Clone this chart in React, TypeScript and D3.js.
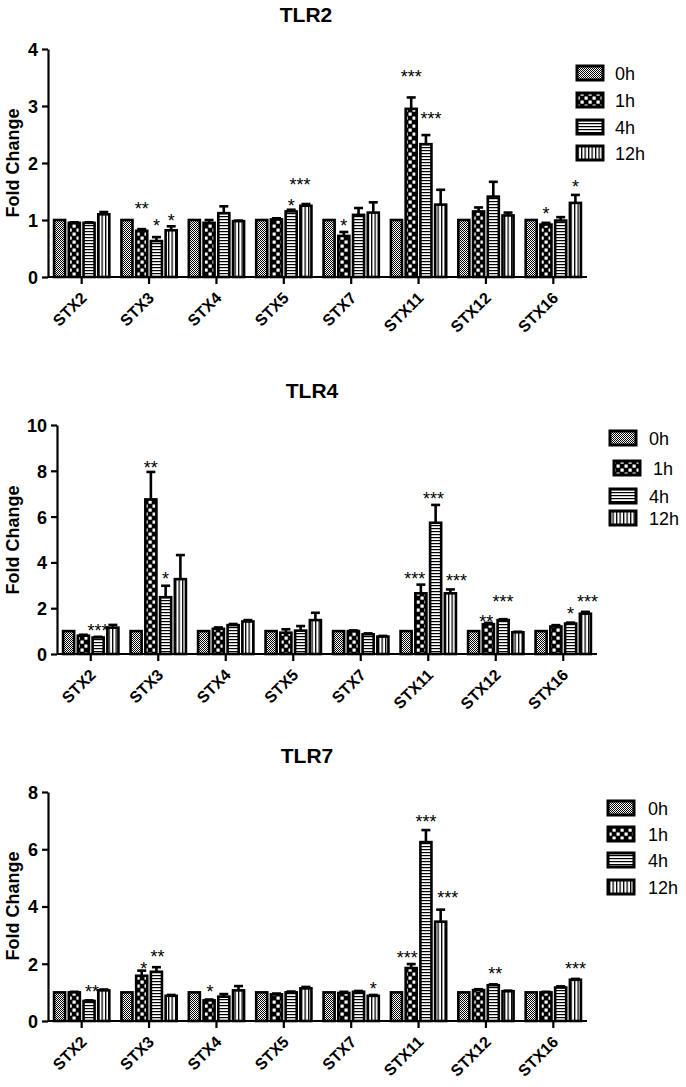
import React, { useEffect, useRef } from 'react';
import * as d3 from 'd3';

const categories = ['STX2', 'STX3', 'STX4', 'STX5', 'STX7', 'STX11', 'STX12', 'STX16'];
const timepoints = ['0h', '1h', '4h', '12h'];

// one row per time point (0h, 1h, 4h, 12h)
const tlr2Mean = [
  [1, 1, 1, 1, 1, 1, 1, 1],
  [0.95, 0.81, 0.95, 1.01, 0.72, 2.95, 1.15, 0.92],
  [0.95, 0.63, 1.12, 1.15, 1.09, 2.33, 1.41, 0.99],
  [1.1, 0.82, 0.98, 1.25, 1.13, 1.27, 1.08, 1.3],
];
const tlr2Err = [
  [0, 0, 0, 0, 0, 0, 0, 0],
  [0.01, 0.03, 0.05, 0.02, 0.07, 0.2, 0.07, 0.03],
  [0.01, 0.07, 0.12, 0.03, 0.12, 0.16, 0.26, 0.06],
  [0.04, 0.07, 0.01, 0.03, 0.18, 0.26, 0.05, 0.14],
];

const tlr4Mean = [
  [1, 1, 1, 1, 1, 1, 1, 1],
  [0.8, 6.75, 1.1, 0.93, 1.0, 2.65, 1.3, 1.2],
  [0.72, 2.48, 1.26, 1.02, 0.86, 5.73, 1.48, 1.33],
  [1.15, 3.27, 1.42, 1.48, 0.76, 2.65, 0.95, 1.76],
];
const tlr4Err = [
  [0, 0, 0, 0, 0, 0, 0, 0],
  [0.04, 1.2, 0.06, 0.15, 0.03, 0.38, 0.06, 0.06],
  [0.03, 0.5, 0.05, 0.2, 0.04, 0.78, 0.04, 0.04],
  [0.12, 1.05, 0.06, 0.32, 0.03, 0.17, 0.02, 0.08],
];

const tlr7Mean = [
  [1, 1, 1, 1, 1, 1, 1, 1],
  [1.0, 1.58, 0.72, 0.93, 0.98, 1.85, 1.08, 1.0],
  [0.7, 1.72, 0.85, 1.0, 1.02, 6.25, 1.25, 1.17],
  [1.07, 0.88, 1.07, 1.14, 0.88, 3.47, 1.04, 1.44],
];
const tlr7Err = [
  [0, 0, 0, 0, 0, 0, 0, 0],
  [0.02, 0.18, 0.03, 0.03, 0.04, 0.14, 0.03, 0.02],
  [0.02, 0.16, 0.09, 0.03, 0.03, 0.42, 0.03, 0.04],
  [0.03, 0.03, 0.15, 0.05, 0.03, 0.42, 0.02, 0.03],
];

// [category, time point, label, height in fold change, nudge]
type Star = [string, string, string, number, number];
const tlr2Stars: Star[] = [
  ['STX3', '1h', '**', 1.26, 0],
  ['STX3', '4h', '*', 0.96, 0],
  ['STX3', '12h', '*', 1.05, 0],
  ['STX5', '4h', '*', 1.32, 0],
  ['STX5', '12h', '***', 1.68, -6],
  ['STX7', '1h', '*', 0.96, 0],
  ['STX11', '1h', '***', 3.58, 0],
  ['STX11', '4h', '***', 2.84, 5],
  ['STX16', '1h', '*', 1.18, 0],
  ['STX16', '12h', '*', 1.65, 0],
];
const tlr4Stars: Star[] = [
  ['STX2', '4h', '***', 1.18, 0],
  ['STX3', '1h', '**', 8.3, 0],
  ['STX3', '4h', '*', 3.45, 0],
  ['STX11', '1h', '***', 3.45, -6],
  ['STX11', '4h', '***', 6.94, -2],
  ['STX11', '12h', '***', 3.36, 6],
  ['STX12', '1h', '**', 1.57, -2],
  ['STX12', '4h', '***', 2.45, 0],
  ['STX16', '4h', '*', 1.92, 0],
  ['STX16', '12h', '***', 2.45, 2],
];
const tlr7Stars: Star[] = [
  ['STX2', '4h', '**', 1.15, 3],
  ['STX3', '1h', '*', 1.96, 2],
  ['STX3', '4h', '**', 2.38, 1],
  ['STX4', '1h', '*', 1.15, 1],
  ['STX7', '12h', '*', 1.26, 0],
  ['STX11', '1h', '***', 2.34, -4],
  ['STX11', '4h', '***', 7.1, 0],
  ['STX11', '12h', '***', 4.44, 7],
  ['STX12', '4h', '**', 1.78, 2],
  ['STX16', '12h', '***', 1.96, 0],
];

const tlr2Ticks = [0, 1, 2, 3, 4];
const tlr4Ticks = [0, 2, 4, 6, 8, 10];
const tlr7Ticks = [0, 2, 4, 6, 8];

const FONT = 'Liberation Sans, Arial, Helvetica, sans-serif';

const panels = [
  {
    title: 'TLR2', mean: tlr2Mean, err: tlr2Err, stars: tlr2Stars, ticks: tlr2Ticks,
    titleX: 306, titleY: 22, left: 48, right: 587, top: 49, zero: 277, yLabelY: 163,
    legendX: [577, 577, 577, 577], legendRows: [73, 100, 127, 153], legendTextX: [615, 615, 615, 615],
  },
  {
    title: 'TLR4', mean: tlr4Mean, err: tlr4Err, stars: tlr4Stars, ticks: tlr4Ticks,
    titleX: 312, titleY: 398, left: 57, right: 597, top: 425, zero: 654, yLabelY: 540,
    legendX: [610, 614, 610, 610], legendRows: [438, 468, 496, 518], legendTextX: [649, 653, 649, 649],
  },
  {
    title: 'TLR7', mean: tlr7Mean, err: tlr7Err, stars: tlr7Stars, ticks: tlr7Ticks,
    titleX: 307, titleY: 763, left: 48, right: 587, top: 792, zero: 1021, yLabelY: 906,
    legendX: [608, 608, 608, 608], legendRows: [808, 834, 860, 887], legendTextX: [648, 648, 648, 648],
  },
];

type Panel = typeof panels[number];

function addPatterns(svg: d3.Selection<SVGSVGElement, unknown, null, undefined>) {
  const defs = svg.append('defs');

  // 0h: fine checker
  const p0 = defs.append('pattern').attr('id', 'pat-0').attr('patternUnits', 'userSpaceOnUse')
    .attr('width', 2).attr('height', 2);
  p0.append('rect').attr('width', 2).attr('height', 2).attr('fill', '#fff');
  p0.append('rect').attr('width', 1).attr('height', 1).attr('fill', '#000');
  p0.append('rect').attr('x', 1).attr('y', 1).attr('width', 1).attr('height', 1).attr('fill', '#000');

  // 1h: coarse checker
  const p1 = defs.append('pattern').attr('id', 'pat-1').attr('patternUnits', 'userSpaceOnUse')
    .attr('width', 8).attr('height', 8);
  p1.append('rect').attr('width', 8).attr('height', 8).attr('fill', '#000');
  p1.append('rect').attr('x', 0.5).attr('y', 0.5).attr('width', 3.2).attr('height', 3.2).attr('fill', '#fff');
  p1.append('rect').attr('x', 4.5).attr('y', 4.5).attr('width', 3.2).attr('height', 3.2).attr('fill', '#fff');

  // 4h: horizontal lines
  const p2 = defs.append('pattern').attr('id', 'pat-2').attr('patternUnits', 'userSpaceOnUse')
    .attr('width', 4).attr('height', 3);
  p2.append('rect').attr('width', 4).attr('height', 3).attr('fill', '#fff');
  p2.append('rect').attr('width', 4).attr('height', 1.2).attr('fill', '#000');

  // 12h: vertical lines
  const p3 = defs.append('pattern').attr('id', 'pat-3').attr('patternUnits', 'userSpaceOnUse')
    .attr('width', 3.5).attr('height', 4);
  p3.append('rect').attr('width', 3.5).attr('height', 4).attr('fill', '#fff');
  p3.append('rect').attr('width', 1.3).attr('height', 4).attr('fill', '#000');
}

function drawPanel(svg: d3.Selection<SVGSVGElement, unknown, null, undefined>, p: Panel) {
  const g = svg.append('g');
  const ymax = p.ticks[p.ticks.length - 1];

  const x0 = d3.scaleBand().domain(categories).range([p.left, p.right]).paddingInner(0.18).paddingOuter(0.09);
  const x1 = d3.scaleBand().domain(timepoints).range([0, x0.bandwidth()]).paddingInner(0.25);
  const y = d3.scaleLinear().domain([0, ymax]).range([p.zero, p.top]);

  // Title
  g.append('text')
    .attr('x', p.titleX).attr('y', p.titleY)
    .attr('text-anchor', 'middle')
    .attr('font-family', FONT).attr('font-weight', 'bold').attr('font-size', 21)
    .text(p.title);

  // Error bars (upper whisker only)
  timepoints.forEach((t, si) => {
    const eg = g.append('g').attr('stroke', '#000').attr('stroke-width', 2.6);
    categories.forEach((c, ci) => {
      const e = p.err[si][ci];
      if (!e) return;
      const cx = x0(c)! + x1(t)! + x1.bandwidth() / 2;
      eg.append('line').attr('x1', cx).attr('x2', cx)
        .attr('y1', y(p.mean[si][ci])).attr('y2', y(p.mean[si][ci] + e));
      eg.append('line').attr('x1', cx - 4.5).attr('x2', cx + 4.5)
        .attr('y1', y(p.mean[si][ci] + e)).attr('y2', y(p.mean[si][ci] + e));
    });
  });

  // Bars
  timepoints.forEach((t, si) => {
    g.append('g').selectAll('rect')
      .data(categories)
      .join('rect')
      .attr('x', c => x0(c)! + x1(t)!)
      .attr('y', (_, i) => y(p.mean[si][i]))
      .attr('width', x1.bandwidth())
      .attr('height', (_, i) => y(0) - y(p.mean[si][i]))
      .attr('fill', `url(#pat-${si})`)
      .attr('stroke', '#000')
      .attr('stroke-width', 2.6);
  });

  // Significance marks
  g.append('g').selectAll('text')
    .data(p.stars)
    .join('text')
    .attr('x', d => x0(d[0])! + x1(d[1])! + x1.bandwidth() / 2 + d[4])
    .attr('y', d => y(d[3]) + 10)
    .attr('text-anchor', 'middle')
    .attr('font-family', FONT).attr('font-size', 18)
    .text(d => d[2]);

  // Axes
  const yAxis = d3.axisLeft(y).tickValues(p.ticks).tickSize(6).tickSizeOuter(0).tickPadding(4).tickFormat(d3.format('d'));
  g.append('g')
    .attr('transform', `translate(${p.left},0)`)
    .call(yAxis)
    .call(a => a.select('.domain').attr('stroke', '#000').attr('stroke-width', 2.2))
    .call(a => a.selectAll('.tick line').attr('stroke', '#000').attr('stroke-width', 2.2))
    .call(a => a.selectAll('.tick text').attr('fill', '#000').attr('font-family', FONT)
      .attr('font-weight', 'bold').attr('font-size', 18).attr('dy', '0.36em'));

  const xAxis = d3.axisBottom(x0).tickSize(7).tickSizeOuter(0);
  g.append('g')
    .attr('transform', `translate(0,${p.zero})`)
    .call(xAxis)
    .call(a => a.select('.domain').attr('stroke', '#000').attr('stroke-width', 2.2).attr('d', `M${p.left},0H${p.right}`))
    .call(a => a.selectAll('.tick line').attr('stroke', '#000').attr('stroke-width', 2.2))
    .call(a => a.selectAll('.tick text')
      .attr('fill', '#000').attr('font-family', FONT).attr('font-weight', 'bold').attr('font-size', 16)
      .attr('x', 0).attr('y', 0).attr('dy', 0)
      .attr('text-anchor', 'end')
      .attr('transform', 'translate(6,22) rotate(-45)'));

  // Y label
  g.append('text')
    .attr('transform', `translate(19,${p.yLabelY}) rotate(-90)`)
    .attr('text-anchor', 'middle')
    .attr('font-family', FONT).attr('font-weight', 'bold').attr('font-size', 18)
    .text('Fold Change');

  // Legend
  const lg = g.append('g');
  timepoints.forEach((t, si) => {
    lg.append('rect')
      .attr('x', p.legendX[si]).attr('y', p.legendRows[si] - 7)
      .attr('width', 26).attr('height', 14)
      .attr('fill', `url(#pat-${si})`)
      .attr('stroke', '#000').attr('stroke-width', 3);
    lg.append('text')
      .attr('x', p.legendTextX[si]).attr('y', p.legendRows[si] + 6.5)
      .attr('font-family', FONT).attr('font-size', 18)
      .text(t);
  });
}

export default function App() {
  const svgRef = useRef<SVGSVGElement>(null);

  useEffect(() => {
    if (!svgRef.current) return;
    const svg = d3.select(svgRef.current);
    svg.selectAll('*').remove();
    addPatterns(svg);
    panels.forEach(p => drawPanel(svg, p));
  }, []);

  return (
    <svg
      ref={svgRef}
      width={686}
      height={1087}
      style={{ position: 'absolute', left: 0, top: 0, background: '#fff' }}
    />
  );
}
